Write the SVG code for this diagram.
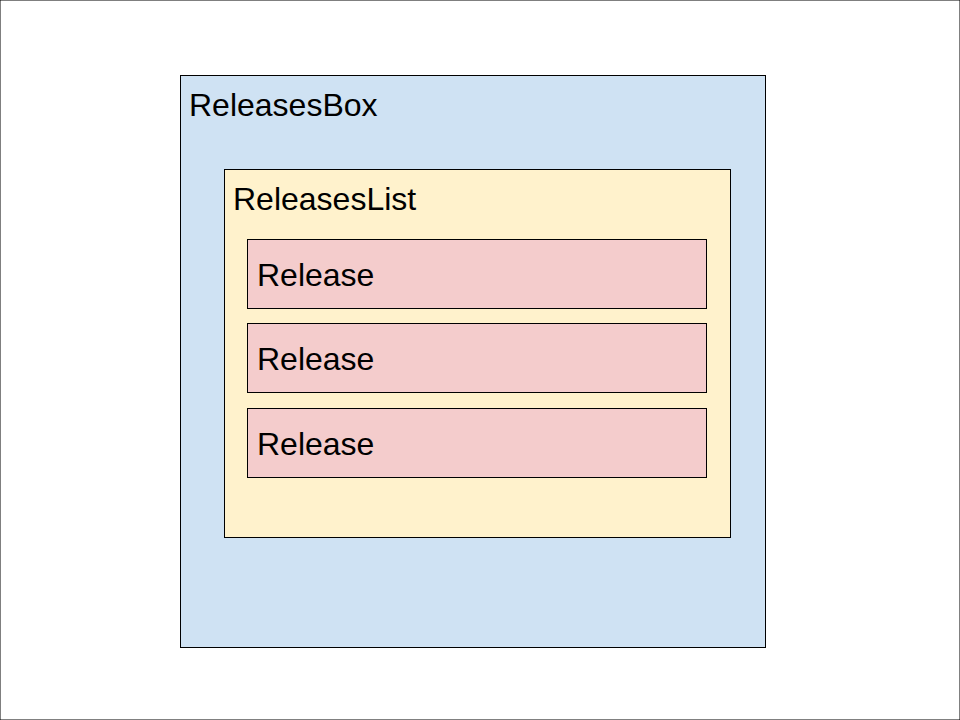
<svg xmlns="http://www.w3.org/2000/svg" width="960" height="720" viewBox="0 0 960 720">
<style>
rect{stroke:#000;stroke-width:1}
text{font-family:"Liberation Sans",Arial,sans-serif;font-size:32px;fill:#000}
.box{fill:#cfe2f3}
.list{fill:#fff2cc}
.rel{fill:#f4cccc}
</style>
<rect width="960" height="720" fill="#fff" stroke="none"/>
<g id="releasesBox">
<rect class="box" x="180.5" y="75.5" width="585" height="572"/>
<text x="189" y="116">ReleasesBox</text>
</g>
<g id="releasesList">
<rect class="list" x="224.5" y="169.5" width="506" height="368"/>
<text x="233" y="210">ReleasesList</text>
</g>
<g id="release1">
<rect class="rel" x="247.5" y="239.5" width="459" height="69"/>
<text x="257" y="286">Release</text>
</g>
<g id="release2">
<rect class="rel" x="247.5" y="323.5" width="459" height="69"/>
<text x="257" y="370">Release</text>
</g>
<g id="release3">
<rect class="rel" x="247.5" y="408.5" width="459" height="69"/>
<text x="257" y="455">Release</text>
</g>
<g id="connectors"></g>
</svg>
